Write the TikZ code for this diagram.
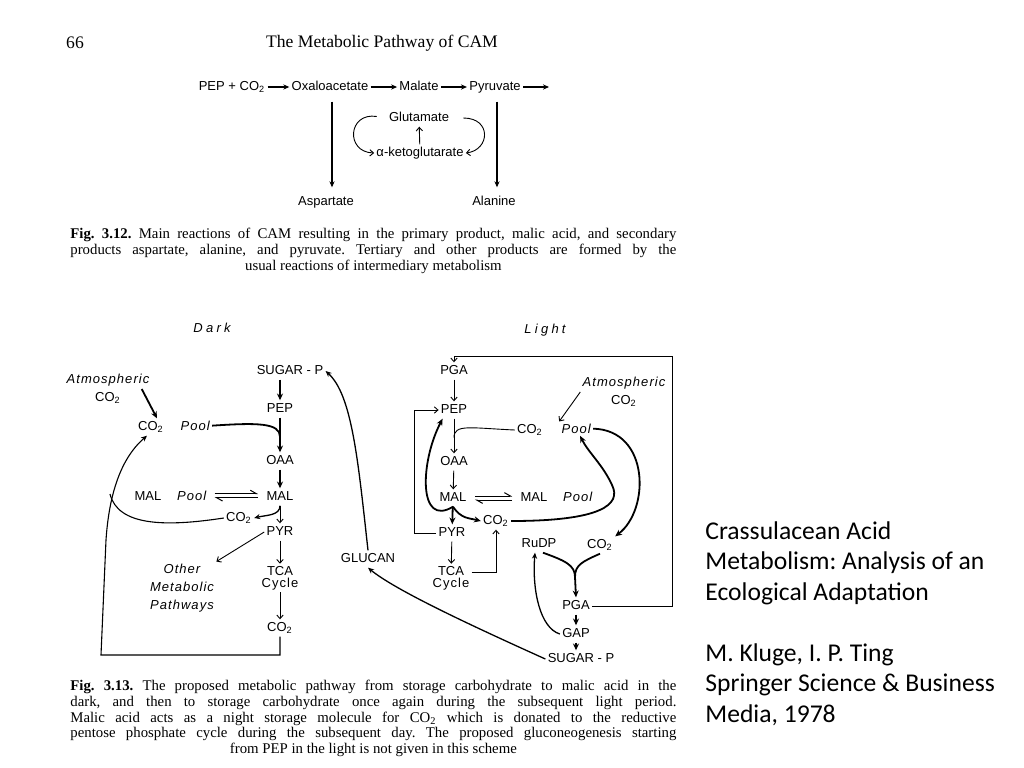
\documentclass[tikz,border=0pt]{standalone}
\usepackage{fontspec}
\setmainfont{Liberation Serif}
\newfontfamily\labfont{Liberation Sans}
\newfontfamily\spacedfont[LetterSpace=8]{Liberation Sans}
\newfontfamily\widefont[LetterSpace=25]{Liberation Sans}
\newfontfamily\notefont{Carlito}
\usepackage{tikz}
\usetikzlibrary{arrows.meta, positioning, calc}

\newcommand{\cotwo}{CO\textsubscript{2}}
\frenchspacing

\begin{document}
\begin{tikzpicture}[
  x=0.5pt, y=-0.5pt,
  lab/.style      = {inner sep=1pt, font=\labfont\fontsize{6.5}{6}\selectfont,
                     text height=4.8pt, text depth=1.5pt},
  labtwo/.style   = {inner sep=1pt, font=\labfont\fontsize{6.5}{6}\selectfont, align=center},
  ital/.style     = {inner sep=1pt, font=\spacedfont\itshape\fontsize{6.5}{9}\selectfont, align=center},
  heading/.style  = {inner sep=1pt, font=\widefont\itshape\fontsize{6.5}{8}\selectfont},
  boldarrow/.style = {-{Stealth[length=3.4pt,width=3pt]}, line width=0.9pt},
  midarrow/.style  = {-{Stealth[length=3pt,width=2.6pt]}, line width=0.65pt},
  thinarrow/.style = {-{Straight Barb[length=1.8pt,width=3.2pt]}, line width=0.45pt},
  harp/.style     = {-{Straight Barb[harpoon,length=3pt,width=3.4pt]}, line width=0.5pt},
  link/.style     = {line width=#1},
  link/.default   = 0.45pt,
  caption/.style  = {font=\fontsize{7.4}{7.8}\selectfont, text width=303pt,
                     align=justify, inner sep=0pt, anchor=north west},
  note/.style     = {font=\notefont\fontsize{12.8}{15.25}\selectfont, align=left,
                     anchor=north west, inner sep=0pt}
]
\useasboundingbox (0,0) rectangle (1024,767);

% ── Running head ──────────────────────────────────────────────────────────────
\node[font=\fontsize{8.8}{10}\selectfont] (pageno)  at (75,43)  {66};
\node[font=\fontsize{8.8}{10}\selectfont] (runhead) at (382,43) {The Metabolic Pathway of CAM};

% ── Fig. 3.12 ─────────────────────────────────────────────────────────────────
\node[lab] (pepco) at (232,87)  {PEP + \cotwo};
\node[lab] (oxa)   at (330,87)  {Oxaloacetate};
\node[lab] (mala)  at (419,87)  {Malate};
\node[lab] (pyru)  at (495,87)  {Pyruvate};
\coordinate (pyruend) at (549,87);
\node[lab] (aspa)  at (326,202) {Aspartate};
\node[lab] (alan)  at (494,202) {Alanine};
\node[lab] (glum)  at (419,118) {Glutamate};
\node[lab] (aketo) at (420,153) {α-ketoglutarate};

\foreach \s/\t in {pepco/oxa, oxa/mala, mala/pyru, pyru/pyruend}
  \draw[midarrow] (\s) -- (\t);
\draw[midarrow, line width=0.55pt, shorten <=3pt, shorten >=3pt] (oxa.south) ++(2,0) -- ($(oxa.south |- aspa.north)+(2,0)$);
\draw[midarrow, line width=0.55pt, shorten <=3pt, shorten >=3pt] (pyru.south) ++(2,0) -- ($(pyru.south |- alan.north)+(2,0)$);
\draw[thinarrow] (aketo) -- (glum);
\draw[thinarrow, shorten <=5pt] (glum.west) .. controls (348,112) and (345,152) .. (aketo.west);
\draw[thinarrow, shorten <=6pt] (glum.east) .. controls (492,118) and (490,150) .. (aketo.east);

\node[caption] (cap312) at (70,228) {\textbf{Fig. 3.12.} Main reactions of CAM resulting in the primary product, malic acid, and secondary\linebreak
  products aspartate, alanine, and pyruvate. Tertiary and other products are formed by the\linebreak
  \makebox[\linewidth]{usual reactions of intermediary metabolism}};

% ── Dark ──────────────────────────────────────────────────────────────────────
\node[heading] (dark)   at (212,328) {Dark};
\node[lab]  (sugard)    at (290,371) {SUGAR - P};
\node[lab]  (pepd)      at (280,409) {PEP};
\node[lab]  (oaad)      at (280,461) {OAA};
\node[lab]  (mald)      at (280,497) {MAL};
\node[lab]  (pyrd)      at (280,532) {PYR};
\node[labtwo] (tcad)    at (280,578) {TCA\\{\spacedfont Cycle}};
\node[lab]  (co2td)     at (280,628) {\cotwo};
\node[lab]  (co2md)     at (239,518) {\cotwo};
\node[lab]  (co2d)      at (151,427) {\cotwo};
\node[ital, base right=6pt of co2d] (poold) {Pool};
\node[lab]  (malpd)     at (148,497) {MAL};
\node[ital, base right=5.5pt of malpd] (poolmd) {Pool};
\node[ital] (atmd)      at (108,389) {Atmospheric\\{\labfont\upshape\cotwo}};
\node[ital] (otherd)    at (182,588) {Other\\Metabolic\\Pathways};
\node[lab]  (glucan)    at (368,559) {GLUCAN};
\coordinate (joind) at ($(pepd.south)!0.55!(oaad.north)$);

\draw[boldarrow] (pepd.north |- sugard.south) -- (pepd.north);
\draw[boldarrow] (pepd) -- (oaad);
\draw[boldarrow] (oaad) -- (mald);
\draw[boldarrow] ([xshift=-5pt]atmd.east) -- ([xshift=3pt]co2d.north);
\draw[link=0.9pt] (poold.east) .. controls +(45,-3) and +(0,-14) .. (joind);
\draw[harp, shorten <=3pt, shorten >=3pt] ([yshift=1pt]poolmd.east) -- ([yshift=1pt]poolmd.east -| mald.west);
\draw[harp, shorten <=3pt, shorten >=3pt] ([yshift=-1pt]poolmd.east -| mald.west) -- ([yshift=-1pt]poolmd.east);
\draw[midarrow] (mald.south) .. controls +(0,10) and +(12,-3) .. (co2md.east);
\draw[thinarrow] (mald) -- (pyrd);
\draw[thinarrow] (pyrd.west) -- (otherd.north east);
\draw[thinarrow] (pyrd) -- (tcad);
\draw[thinarrow] (tcad) -- (co2td);
\draw[midarrow, line width=0.55pt] (co2td.south) |- (101,655) -- (106,540)
  .. controls (110,480) and (128,452) .. ([xshift=-2pt]co2d.south);
\draw[link=0.55pt] (co2md.west) .. controls (165,527) and (118,526) .. (110,494);
\draw[midarrow] (glucan.north) .. controls (358,460) and (352,395) .. (sugard.east);

% ── Light ─────────────────────────────────────────────────────────────────────
\node[heading] (light)  at (545,330) {Light};
\node[lab]  (pgat)      at (454,371) {PGA};
\node[lab]  (pepl)      at (454,410) {PEP};
\node[lab]  (oaal)      at (454,462) {OAA};
\node[lab]  (mall)      at (453,498) {MAL};
\node[lab]  (pyrl)      at (452,533) {PYR};
\node[labtwo] (tcal)    at (451,578) {TCA\\{\spacedfont Cycle}};
\node[lab]  (co2pl)     at (530,430) {\cotwo};
\node[ital, base right=7pt of co2pl] (pooll) {Pool};
\node[ital] (atml)      at (624,392) {Atmospheric\\{\labfont\upshape\cotwo}};
\node[lab]  (malpl)     at (534,498) {MAL};
\node[ital, base right=5.5pt of malpl] (poolml) {Pool};
\node[lab]  (co2ml)     at (496,521) {\cotwo};
\node[lab]  (rudp)      at (539,544) {RuDP};
\node[lab]  (co2rl)     at (600,545) {\cotwo};
\node[lab]  (pgab)      at (576,606) {PGA};
\node[lab]  (gap)       at (576,634) {GAP};
\node[lab]  (sugarl)    at (581,659) {SUGAR - P};
\coordinate (joinl) at ($(pepl.south)!0.55!(oaal.north)$);
\coordinate (merge) at (575,577);

\draw[thinarrow] (pgab.east) -| (672,356) -| (pgat.north);
\draw[thinarrow] (pgat) -- (pepl);
\draw[thinarrow] (pyrl.west) -- ++(-22,0) |- (pepl.west);
\draw[thinarrow] (pepl) -- (oaal);
\draw[link] (co2pl.west) .. controls +(-45,-2) and +(0,-14) .. (joinl);
\draw[thinarrow] (atml.west) -- (pooll.north west);
\draw[thinarrow] (oaal) -- (mall);
\draw[harp, shorten <=3pt, shorten >=3pt] ([yshift=1pt]mall.east) -- ([yshift=1pt]mall.east -| malpl.west);
\draw[harp, shorten <=3pt, shorten >=3pt] ([yshift=-1pt]mall.east -| malpl.west) -- ([yshift=-1pt]mall.east);
\draw[boldarrow] (mall.south) .. controls (418,528) and (420,462) .. ([xshift=2pt]pepl.south west);
\draw[boldarrow] (mall) -- (pyrl);
\draw[boldarrow] (mall.south) .. controls +(8,12) and +(-12,-3) .. (co2ml.west);
\draw[thinarrow] (pyrl) -- (tcal);
\draw[thinarrow] ([yshift=3pt]tcal.east) -| (co2ml.south);
\draw[boldarrow] (co2ml.east) .. controls (600,521) and (622,505) .. (612,485)
  .. controls (603,465) and (588,452) .. ([xshift=2pt]pooll.south);
\draw[boldarrow] (pooll.east) .. controls (650,430) and (650,510) .. (co2rl.north east);
\draw[link=0.9pt] ([xshift=2pt]rudp.south) .. controls +(22,8) and +(0,-12) .. (merge);
\draw[link=0.9pt] (co2rl.south) .. controls +(-18,8) and +(0,-12) .. (merge);
\draw[boldarrow] (merge) -- (pgab.north);
\draw[boldarrow] (pgab) -- (gap);
\draw[boldarrow] (gap.south) -- (gap.south |- sugarl.north);
\draw[midarrow] (gap.west) .. controls (540,628) and (532,590) .. ([xshift=-2pt]rudp.south);
\draw[midarrow] (sugarl.west) .. controls (470,625) and (395,590) .. (glucan.south);

\node[caption] (cap313) at (70,680) {\textbf{Fig. 3.13.} The proposed metabolic pathway from storage carbohydrate to malic acid in the\linebreak
  dark, and then to storage carbohydrate once again during the subsequent light period.\linebreak
  Malic acid acts as a night storage molecule for \cotwo{} which is donated to the reductive\linebreak
  pentose phosphate cycle during the subsequent day. The proposed gluconeogenesis starting\linebreak
  \makebox[\linewidth]{from PEP in the light is not given in this scheme}};

% ── Source note ───────────────────────────────────────────────────────────────
\node[note] (book) at (705,521) {Crassulacean Acid\\Metabolism: Analysis of an\\Ecological Adaptation\\[15.25pt]M. Kluge, I. P. Ting\\Springer Science \& Business\\Media, 1978};

\end{tikzpicture}
\end{document}
